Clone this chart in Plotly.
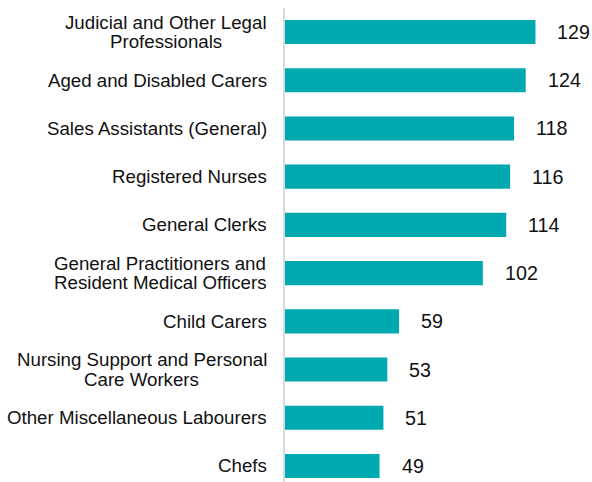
import plotly.graph_objects as go

categories = [
    "Judicial and Other Legal<br>Professionals",
    "Aged and Disabled Carers",
    "Sales Assistants (General)",
    "Registered Nurses",
    "General Clerks",
    "General Practitioners and<br>Resident Medical Officers",
    "Child Carers",
    "Nursing Support and Personal<br>Care Workers",
    "Other Miscellaneous Labourers",
    "Chefs",
]
values = [129, 124, 118, 116, 114, 102, 59, 53, 51, 49]

FONT = "Liberation Sans, Arial, sans-serif"
BAR = "#00A8B0"
TXT = "#111111"
LABEL_SIZE = 18.7
VALUE_SIZE = 19.7
LINE_GAP = 19.5  # px between lines of a wrapped label
LABEL_PAD = 15   # px between label block and axis

# Arial advance widths (per 1000 em) for measuring wrapped-label lines
AW = {" ": 278, "(": 333, ")": 333, "A": 667, "C": 722, "D": 722, "G": 778, "J": 500,
      "L": 556, "M": 833, "N": 722, "O": 778, "P": 667, "R": 722, "S": 667, "W": 944,
      "a": 556, "b": 556, "c": 500, "d": 556, "e": 556, "f": 278, "g": 556, "h": 556,
      "i": 222, "j": 222, "k": 500, "l": 222, "m": 833, "n": 556, "o": 556, "p": 556,
      "r": 333, "s": 500, "t": 278, "u": 556, "v": 500, "w": 722, "x": 500, "y": 500}


def text_w(s, size):
    return sum(AW.get(ch, 556) for ch in s) * size / 1000.0


fig = go.Figure(go.Bar(
    x=values, y=categories, orientation="h",
    marker=dict(color=BAR, line=dict(width=0)),
    width=0.5, hoverinfo="skip",
))

# value labels
for c, v in zip(categories, values):
    fig.add_annotation(x=v, y=c, xref="x", yref="y", text=str(v),
                       showarrow=False, xanchor="left", xshift=20,
                       font=dict(family=FONT, size=VALUE_SIZE, color=TXT))

# category labels (right-aligned block, lines centred within the block)
for c in categories:
    lines = c.split("<br>")
    if len(lines) == 1:
        fig.add_annotation(x=0, y=c, xref="paper", yref="y", text=c, showarrow=False,
                           xanchor="right", xshift=-LABEL_PAD,
                           font=dict(family=FONT, size=LABEL_SIZE, color=TXT))
    else:
        block_w = max(text_w(s, LABEL_SIZE) for s in lines)
        n = len(lines)
        for i, s in enumerate(lines):
            fig.add_annotation(x=0, y=c, xref="paper", yref="y", text=s, showarrow=False,
                               xanchor="center", xshift=-(LABEL_PAD + 2 + block_w / 2),
                               yshift=((n - 1) / 2 - i) * LINE_GAP,
                               font=dict(family=FONT, size=LABEL_SIZE, color=TXT))

# axis line starts a little below the top edge
fig.add_shape(type="line", xref="paper", yref="paper", x0=0, x1=0, y0=0, y1=(482 - 8) / 482,
              line=dict(color="#d9d9d9", width=2))

fig.update_layout(
    width=592, height=482,
    margin=dict(l=284, r=0, t=0, b=0),
    paper_bgcolor="white", plot_bgcolor="white",
    showlegend=False,
    xaxis=dict(range=[0, 158], showgrid=False, zeroline=False, showticklabels=False,
               showline=False, ticks=""),
    yaxis=dict(type="category", range=[9.332, -0.664], showgrid=False, zeroline=False,
               showline=False, ticks="", showticklabels=False),
)

fig.write_html(
    "out.html",
    config={"displayModeBar": False, "staticPlot": True},
    post_script="document.body.style.margin='0px';document.documentElement.style.overflow='hidden';",
)
